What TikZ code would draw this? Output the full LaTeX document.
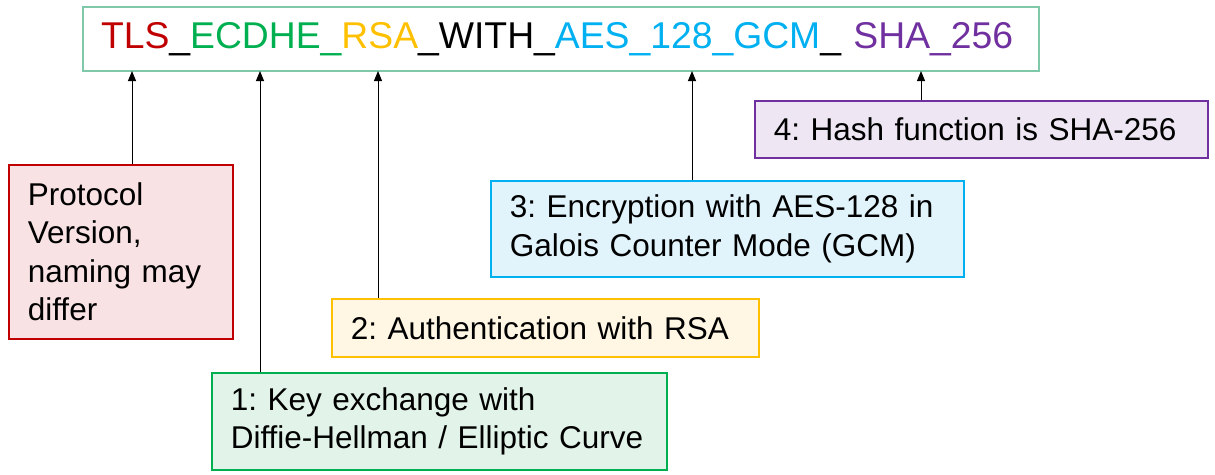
\documentclass[tikz,border=0pt]{standalone}
\usepackage{fontspec}
\setmainfont{Liberation Sans}
\usetikzlibrary{arrows.meta}
\frenchspacing
\definecolor{cRed}{RGB}{192,0,0}
\definecolor{cRedF}{RGB}{248,226,228}
\definecolor{cGreen}{RGB}{0,176,80}
\definecolor{cGreenF}{RGB}{226,244,233}
\definecolor{cOrange}{RGB}{255,192,0}
\definecolor{cOrangeF}{RGB}{255,247,228}
\definecolor{cBlue}{RGB}{0,176,240}
\definecolor{cBlueF}{RGB}{225,244,252}
\definecolor{cPurple}{RGB}{112,48,160}
\definecolor{cPurpleF}{RGB}{238,231,243}
\definecolor{cFrame}{RGB}{127,201,170}
\tikzset{
  infobox/.style={draw=#1, fill=#1F, line width=1.6pt, anchor=north west,
    align=left, inner xsep=19pt, inner ysep=0pt,
    font=\fontsize{31.5}{38.5}\selectfont, text=black},
  pointer/.style={line width=1pt, -{Triangle[width=8pt,length=10pt]}}
}
\begin{document}
\begin{tikzpicture}[x=1pt,y=-1pt]
\useasboundingbox (0,0) rectangle (1215,474);

% cipher suite name
\node[draw=cFrame, line width=2pt, anchor=north west, minimum height=64pt,
      text width=920pt, inner xsep=18pt, align=left,
      font=\fontsize{37.3}{45}\selectfont] (title) at (82,6)
  {\textcolor{cRed}{TLS}\_\textcolor{cGreen}{ECDHE\_}\textcolor{cOrange}{RSA}\_WITH\_\textcolor{cBlue}{AES\_128\_GCM}\_ \textcolor{cPurple}{SHA\_256}};

% explanation boxes
\node[infobox=cRed, text width=186pt, minimum height=174pt] (proto) at (8,164)
  {Protocol\\Version,\\naming may\\differ};
\node[infobox=cGreen, text width=417pt, minimum height=97pt] (kex) at (211,372)
  {1: Key exchange with\\Diffie-Hellman / Elliptic Curve};
\node[infobox=cOrange, text width=389pt, minimum height=58pt] (auth) at (331,298)
  {2: Authentication with RSA};
\node[infobox=cBlue, text width=435pt, minimum height=96pt] (enc) at (490,180)
  {3: Encryption with AES-128 in\\Galois Counter Mode (GCM)};
\node[infobox=cPurple, text width=415pt, minimum height=57pt] (hash) at (754,100)
  {4: Hash function is SHA-256};

% arrow tips just below the name
\coordinate (pProto) at (132,71);
\coordinate (pKex)   at (260,71);
\coordinate (pAuth)  at (378,71);
\coordinate (pEnc)   at (692,71);
\coordinate (pHash)  at (921,71);

\draw[pointer] (pProto |- proto.north) -- (pProto);
\draw[pointer] (pKex |- kex.north) -- (pKex);
\draw[pointer] (pAuth |- auth.north) -- (pAuth);
\draw[pointer] (pEnc |- enc.north) -- (pEnc);
\draw[pointer] (pHash |- hash.north) -- (pHash);
\end{tikzpicture}
\end{document}
